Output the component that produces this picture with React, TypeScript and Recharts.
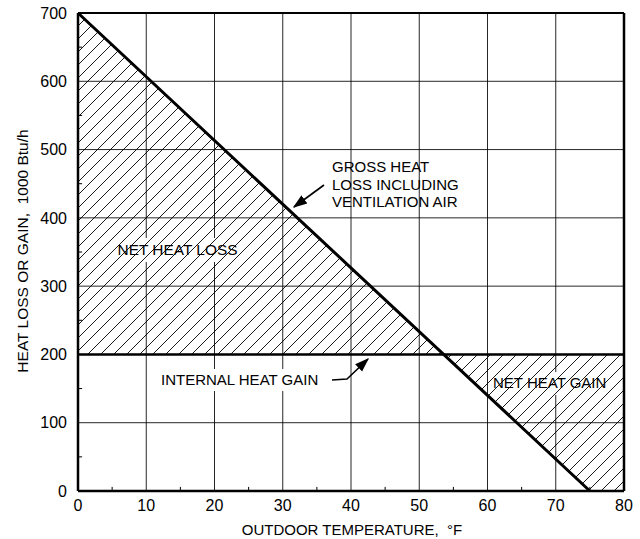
import React from "react";
import {
  ComposedChart,
  Line,
  Area,
  XAxis,
  YAxis,
  CartesianGrid,
  ReferenceLine,
  Customized,
} from "recharts";

const xTicks = [0, 10, 20, 30, 40, 50, 60, 70, 80];
const yTicks = [0, 100, 200, 300, 400, 500, 600, 700];
const xMinor = [5, 15, 25, 35, 45, 55, 65, 75];
const yMinor = [50, 150, 250, 350, 450, 550, 650];

const temps = [0, 53.57, 75, 80];
const grossLoss = [700, 200, 0, null];
const internalGain = [200, 200, 200, 200];
const netLossRange = [[200, 700], [200, 200], null, null];
const netGainRange = [null, [200, 200], [0, 200], [0, 200]];

const data = temps.map((t, i) => ({
  t,
  gross: grossLoss[i],
  internal: internalGain[i],
  loss: netLossRange[i],
  gain: netGainRange[i],
}));

const W = 640;
const H = 539;
const M = { top: 13, right: 16, bottom: 0, left: 0 };
const YW = 78;
const XH = 48;
const FONT = "'Liberation Sans', Arial, Helvetica, sans-serif";

const Annotations = () => (
  <g fontFamily={FONT} fill="#000">
    <defs>
      <marker id="arr" viewBox="0 0 10 10" refX="9" refY="5" markerWidth="9" markerHeight="9" orient="auto">
        <path d="M0,1.5 L10,5 L0,8.5 z" fill="#000" />
      </marker>
    </defs>
    <text x={332} y={172} fontSize={15}>GROSS HEAT</text>
    <text x={332} y={190} fontSize={15}>LOSS INCLUDING</text>
    <text x={332} y={207} fontSize={15}>VENTILATION AIR</text>
    <line x1={324} y1={185} x2={294} y2={207} stroke="#000" strokeWidth={1.6} markerEnd="url(#arr)" />

    <rect x={114} y={238} width={128} height={24} fill="#fff" />
    <text x={117.5} y={254.5} fontSize={15} textLength={120} lengthAdjust="spacingAndGlyphs">NET HEAT LOSS</text>

    <rect x={488} y={372} width={128} height={23} fill="#fff" />
    <text x={493} y={388} fontSize={15}>NET HEAT GAIN</text>

    <rect x={156} y={369} width={172} height={22} fill="#fff" />
    <text x={161} y={385} fontSize={15}>INTERNAL HEAT GAIN</text>
    <polyline points="332,380 347,379 368,359" fill="none" stroke="#000" strokeWidth={1.6} markerEnd="url(#arr)" />

    <text
      x={0}
      y={0}
      fontSize={15.5}
      textAnchor="middle"
      transform="translate(28,251) rotate(-90)"
    >
      HEAT LOSS OR GAIN,{"\u00a0\u00a0"}1000 Btu/h
    </text>
    <text x={352} y={535} fontSize={15} textAnchor="middle">
      OUTDOOR TEMPERATURE,{"\u00a0\u00a0"}°F
    </text>
  </g>
);

export default function App() {
  return (
    <div style={{ position: "absolute", left: 0, top: 0, width: W, height: H, background: "#fff" }}>
      <ComposedChart width={W} height={H} data={data} margin={M}>
        <defs>
          <pattern id="hatch" patternUnits="userSpaceOnUse" width={13} height={13}>
            <path d="M0,13 L13,0 M-3,3 L3,-3 M10,16 L16,10" stroke="#000" strokeWidth={0.9} />
          </pattern>
        </defs>
        <CartesianGrid stroke="#000" strokeWidth={1} strokeOpacity={0.85} />
        <XAxis
          dataKey="t"
          type="number"
          domain={[0, 80]}
          ticks={xTicks}
          height={XH}
          tickSize={0}
          tickMargin={9}
          axisLine={{ stroke: "#000", strokeWidth: 2.5 }}
          tick={{ fill: "#000", fontSize: 16, fontFamily: FONT }}
          interval={0}
        />
        <YAxis
          type="number"
          domain={[0, 700]}
          ticks={yTicks}
          width={YW}
          tickSize={0}
          tickMargin={11}
          axisLine={{ stroke: "#000", strokeWidth: 2.5 }}
          tick={{ fill: "#000", fontSize: 16, fontFamily: FONT }}
          interval={0}
        />
        <Area
          dataKey="loss"
          stroke="none"
          fill="url(#hatch)"
          fillOpacity={1}
          isAnimationActive={false}
          type="linear"
        />
        <Area
          dataKey="gain"
          stroke="none"
          fill="url(#hatch)"
          fillOpacity={1}
          isAnimationActive={false}
          type="linear"
        />
        <ReferenceLine x={80} stroke="#000" strokeWidth={2.5} />
        <ReferenceLine y={700} stroke="#000" strokeWidth={2} />
        {xMinor.map((x) => (
          <ReferenceLine key={"xm" + x} segment={[{ x, y: 0 }, { x, y: 6 }]} stroke="#000" strokeWidth={1} />
        ))}
        {yMinor.map((y) => (
          <ReferenceLine key={"ym" + y} segment={[{ x: 0, y }, { x: 0.6, y }]} stroke="#000" strokeWidth={1} />
        ))}
        <Customized component={Annotations} />
        <Line
          dataKey="internal"
          stroke="#000"
          strokeWidth={2.5}
          dot={false}
          isAnimationActive={false}
          type="linear"
        />
        <Line
          dataKey="gross"
          stroke="#000"
          strokeWidth={3}
          dot={false}
          isAnimationActive={false}
          type="linear"
          connectNulls={false}
        />
      </ComposedChart>
    </div>
  );
}
